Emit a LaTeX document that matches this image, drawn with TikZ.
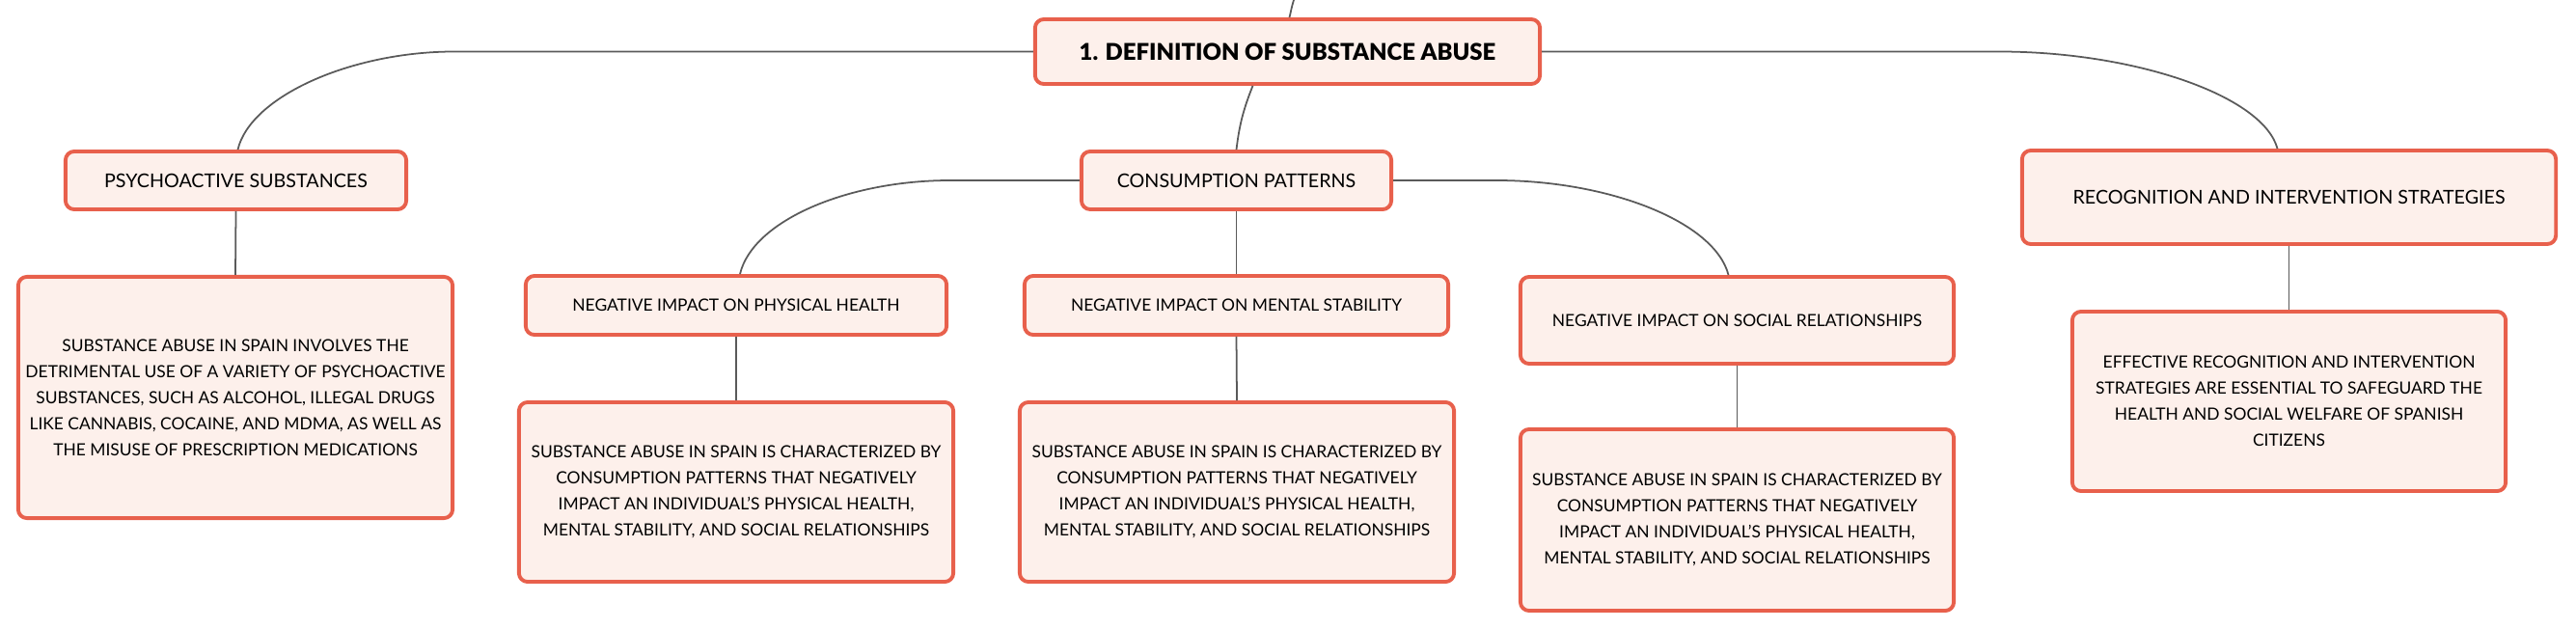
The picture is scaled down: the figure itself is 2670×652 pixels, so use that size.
\documentclass[tikz,border=0pt]{standalone}
\usepackage{fontspec}
\setmainfont{Lato}
\newfontfamily\titlefont{Lato Black}
\usetikzlibrary{backgrounds}
\definecolor{bord}{HTML}{E8604C}
\definecolor{fillc}{HTML}{FDF0EB}
\definecolor{linec}{HTML}{5A5A5A}
\begin{document}
\begin{tikzpicture}[x=0.01cm,y=-0.01cm,
  box/.style={draw=bord, fill=fillc, line width=1.1pt, rounded corners=0.09cm, inner sep=0pt, align=center, text=black},
  lvlone/.style={box, font=\fontsize{6.8}{9}\titlefont},
  lvltwo/.style={box, font=\fontsize{5.6}{8}\selectfont},
  lvlhead/.style={box, font=\fontsize{4.95}{7}\selectfont},
  lvlthree/.style={box, font=\fontsize{4.95}{7.7}\selectfont},
  link/.style={draw=linec, line width=0.5pt}]
\useasboundingbox (0,0) rectangle (2670,652);

\node[lvlone, minimum width=5.23cm, minimum height=0.67cm] (root) at (1334.5,53.5) {1. DEFINITION OF SUBSTANCE ABUSE};

\node[lvltwo, minimum width=3.53cm, minimum height=0.60cm] (psy) at (244.5,187) {PSYCHOACTIVE SUBSTANCES};
\node[lvltwo, minimum width=3.21cm, minimum height=0.60cm] (cons) at (1281.5,187) {CONSUMPTION PATTERNS};
\node[lvltwo, minimum width=5.53cm, minimum height=0.97cm] (rec) at (2372.5,204.5) {RECOGNITION AND INTERVENTION STRATEGIES};

\node[lvlthree, minimum width=4.50cm, minimum height=2.50cm] (psyd) at (244,412) {SUBSTANCE ABUSE IN SPAIN INVOLVES THE\\DETRIMENTAL USE OF A VARIETY OF PSYCHOACTIVE\\SUBSTANCES, SUCH AS ALCOHOL, ILLEGAL DRUGS\\LIKE CANNABIS, COCAINE, AND MDMA, AS WELL AS\\THE MISUSE OF PRESCRIPTION MEDICATIONS};

\node[lvlhead, minimum width=4.36cm, minimum height=0.61cm] (phys) at (763,316.5) {NEGATIVE IMPACT ON PHYSICAL HEALTH};
\node[lvlhead, minimum width=4.39cm, minimum height=0.61cm] (ment) at (1281.5,316.5) {NEGATIVE IMPACT ON MENTAL STABILITY};
\node[lvlhead, minimum width=4.49cm, minimum height=0.90cm] (soc) at (1800.5,332) {NEGATIVE IMPACT ON SOCIAL RELATIONSHIPS};

\node[lvlthree, minimum width=4.50cm, minimum height=1.86cm] (physd) at (763,510) {SUBSTANCE ABUSE IN SPAIN IS CHARACTERIZED BY\\CONSUMPTION PATTERNS THAT NEGATIVELY\\IMPACT AN INDIVIDUAL'S PHYSICAL HEALTH,\\MENTAL STABILITY, AND SOCIAL RELATIONSHIPS};
\node[lvlthree, minimum width=4.50cm, minimum height=1.86cm] (mentd) at (1282,510) {SUBSTANCE ABUSE IN SPAIN IS CHARACTERIZED BY\\CONSUMPTION PATTERNS THAT NEGATIVELY\\IMPACT AN INDIVIDUAL'S PHYSICAL HEALTH,\\MENTAL STABILITY, AND SOCIAL RELATIONSHIPS};
\node[lvlthree, minimum width=4.49cm, minimum height=1.88cm] (socd) at (1800.5,539) {SUBSTANCE ABUSE IN SPAIN IS CHARACTERIZED BY\\CONSUMPTION PATTERNS THAT NEGATIVELY\\IMPACT AN INDIVIDUAL'S PHYSICAL HEALTH,\\MENTAL STABILITY, AND SOCIAL RELATIONSHIPS};
\node[lvlthree, minimum width=4.49cm, minimum height=1.86cm] (recd) at (2372.5,416) {EFFECTIVE RECOGNITION AND INTERVENTION\\STRATEGIES ARE ESSENTIAL TO SAFEGUARD THE\\HEALTH AND SOCIAL WELFARE OF SPANISH\\CITIZENS};

\coordinate (top) at (1341,0);

\draw[link] (top) .. controls +(-3,10) and +(2,-8) .. ([xshift=0.02cm]root.north);
\draw[link] ([xshift=-0.36cm]root.south) .. controls +(-10,25) and +(3,-25) .. (cons.north);
\draw[link] (root.west) -- ++(-600,0) .. controls +(-107,0) and +(13,-55) .. ([xshift=0.02cm]psy.north);
\draw[link] (root.east) -- ++(474,0) .. controls +(140,0) and +(-15,-55) .. ([xshift=-0.12cm]rec.north);
\draw[link] (cons.west) -- ++(-134,0) .. controls +(-107,0) and +(13,-55) .. ([xshift=0.04cm]phys.north);
\draw[link] (cons.east) -- ++(107,0) .. controls +(117,0) and +(-14,-55) .. ([xshift=-0.09cm]soc.north);
\draw[link] (cons.south) -- (ment.north);
\draw[link] (psy.south) -- (psyd.north);
\draw[link] (phys.south) -- (physd.north);
\draw[link] (ment.south) -- (mentd.north);
\draw[link] (soc.south) -- (socd.north);
\draw[link] (rec.south) -- (recd.north);
\end{tikzpicture}
\end{document}
